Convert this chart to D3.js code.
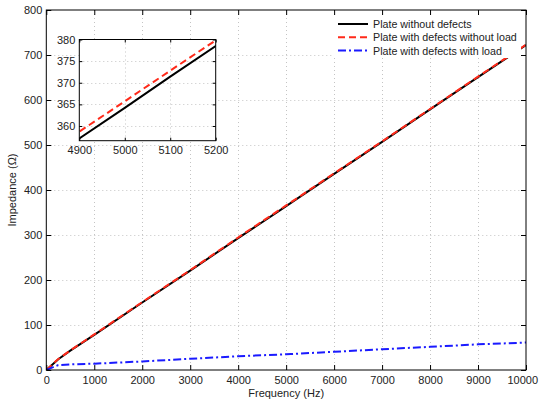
<!DOCTYPE html>
<html>
<head>
<meta charset="utf-8">
<script src="https://cdn.jsdelivr.net/npm/d3@7"></script>
<style>
  html, body { margin: 0; padding: 0; background: #fff; }
  svg { display: block; }
  text { font-family: "Liberation Sans", Arial, Helvetica, sans-serif; fill: #222; }
</style>
</head>
<body>
<svg id="chart" width="539" height="402"></svg>
<script>
// ---- data ----
const frequencies = [0, 250, 500, 1000, 2000, 3000, 4000, 4900, 5000, 5100, 5200, 6000, 7000, 8000, 9000, 10000];
const plateWithoutDefects = [0, 24, 43, 78, 150, 221, 293, 357.1, 364.2, 371.4, 378.5, 436, 507, 579, 651, 722];
const plateDefectsNoLoad = [0, 24.5, 43.5, 79, 151, 222, 294.5, 358.7, 365.7, 372.8, 379.8, 437, 508, 580, 652, 723];
const plateDefectsWithLoad = [0, 11, 12.5, 14, 19, 25, 30.5, 34.5, 35, 35.5, 36, 40.5, 46, 51.5, 57, 61];
const seriesNames = ["Plate without defects", "Plate with defects without load", "Plate with defects with load"];
const xTicks = [0, 1000, 2000, 3000, 4000, 5000, 6000, 7000, 8000, 9000, 10000];
const yTicks = [0, 100, 200, 300, 400, 500, 600, 700, 800];
const insetXTicks = [4900, 5000, 5100, 5200];
const insetYTicks = [360, 365, 370, 375, 380];
const xLabel = "Frequency (Hz)";
const yLabel = "Impedance (\u03A9)";

const series = [
  { name: seriesNames[0], values: plateWithoutDefects, color: "#000000", dash: null },
  { name: seriesNames[1], values: plateDefectsNoLoad, color: "#ff2a1a", dash: "7,4" },
  { name: seriesNames[2], values: plateDefectsWithLoad, color: "#1a1aff", dash: "8,3,2,3" }
];

const svg = d3.select("#chart");
const W = 539;
const M = { left: 46.3, right: 526, top: 10, bottom: 370 };

const x = d3.scaleLinear().domain([0, 10000]).range([M.left, M.right]);
const y = d3.scaleLinear().domain([0, 800]).range([M.bottom, M.top]);

function drawPanel(g, xs, ys, xt, yt, tickLen, clipId, lineW) {
  const [x0, x1] = xs.range();
  const [y0, y1] = ys.range();
  g.append("rect").attr("x", x0).attr("y", y1).attr("width", x1 - x0).attr("height", y0 - y1).attr("fill", "#fff");
  const grid = g.append("g").attr("stroke", "#c4c4c4").attr("stroke-width", 1).attr("stroke-dasharray", "1,3");
  xt.forEach(t => {
    const px = Math.round(xs(t)) + 0.5;
    if (t === xs.domain()[0] || t === xs.domain()[1]) return;
    grid.append("line").attr("x1", px).attr("x2", px).attr("y1", y1).attr("y2", y0);
  });
  yt.forEach(t => {
    const py = Math.round(ys(t)) + 0.5;
    if (Math.abs(ys(t) - y0) < 1 || Math.abs(ys(t) - y1) < 1) return;
    grid.append("line").attr("x1", x0).attr("x2", x1).attr("y1", py).attr("y2", py);
  });
  svg.append("defs").append("clipPath").attr("id", clipId)
    .append("rect").attr("x", x0).attr("y", y1).attr("width", x1 - x0).attr("height", y0 - y1);
  const lines = g.append("g").attr("clip-path", `url(#${clipId})`);
  series.forEach(s => {
    const line = d3.line().x((d, i) => xs(frequencies[i])).y(d => ys(d));
    lines.append("path").datum(s.values)
      .attr("d", line)
      .attr("fill", "none")
      .attr("stroke", s.color)
      .attr("stroke-width", lineW)
      .attr("stroke-dasharray", s.dash);
  });
  const bottom = d3.axisBottom(xs).tickValues(xt).tickSizeInner(-tickLen).tickSizeOuter(0).tickPadding(6).tickFormat(d3.format("d"));
  const top = d3.axisTop(xs).tickValues(xt).tickSizeInner(-tickLen).tickSizeOuter(0).tickFormat("");
  const left = d3.axisLeft(ys).tickValues(yt).tickSizeInner(-tickLen).tickSizeOuter(0).tickPadding(4).tickFormat(d3.format("d"));
  const right = d3.axisRight(ys).tickValues(yt).tickSizeInner(-tickLen).tickSizeOuter(0).tickFormat("");
  const axStyle = a => {
    a.selectAll("path").remove();
    a.selectAll("line").attr("stroke", "#000");
    a.selectAll("text").attr("font-size", 11).attr("fill", "#222")
      .style("font-family", "'Liberation Sans', Arial, sans-serif");
  };
  const bAx = g.append("g").attr("transform", `translate(0,${y0})`).call(bottom).call(axStyle);
  // keep the last x label inside the canvas
  bAx.selectAll("text").each(function () {
    const bb = this.getBBox();
    const tr = this.parentNode.getAttribute("transform");
    const tx = +/translate\(([-\d.]+)/.exec(tr)[1];
    const overflow = tx + bb.x + bb.width - (W - 1);
    if (overflow > 0) d3.select(this).attr("dx", -overflow);
  });
  g.append("g").attr("transform", `translate(0,${y1})`).call(top).call(axStyle);
  g.append("g").attr("transform", `translate(${x0},0)`).call(left).call(axStyle);
  g.append("g").attr("transform", `translate(${x1},0)`).call(right).call(axStyle);
  g.append("rect").attr("x", x0).attr("y", y1).attr("width", x1 - x0).attr("height", y0 - y1)
    .attr("fill", "none").attr("stroke", "#000").attr("stroke-width", 1);
}

const main = svg.append("g");
drawPanel(main, x, y, xTicks, yTicks, 5, "clipMain", 2);

svg.append("text").attr("x", (M.left + M.right) / 2).attr("y", 397)
  .attr("text-anchor", "middle").attr("font-size", 11).text(xLabel);
svg.append("text").attr("transform", `translate(16,${(M.top + M.bottom) / 2}) rotate(-90)`)
  .attr("text-anchor", "middle").attr("font-size", 11).text(yLabel);

const legend = svg.append("g");
legend.append("rect").attr("x", 333).attr("y", 16).attr("width", 188).attr("height", 42).attr("fill", "#fff");
series.forEach((s, i) => {
  const ly = 24 + i * 13.3;
  legend.append("line").attr("x1", 338).attr("x2", 368).attr("y1", ly).attr("y2", ly)
    .attr("stroke", s.color).attr("stroke-width", 2).attr("stroke-dasharray", s.dash);
  legend.append("text").attr("x", 373).attr("y", ly + 4).attr("font-size", 10.7).text(s.name);
});

const xi = d3.scaleLinear().domain([4900, 5200]).range([79.3, 215.7]);
const yi = d3.scaleLinear().domain([356.6, 380]).range([140.7, 39.5]);
const inset = svg.append("g");
drawPanel(inset, xi, yi, insetXTicks, insetYTicks, 3, "clipInset", 2);
</script>
</body>
</html>
